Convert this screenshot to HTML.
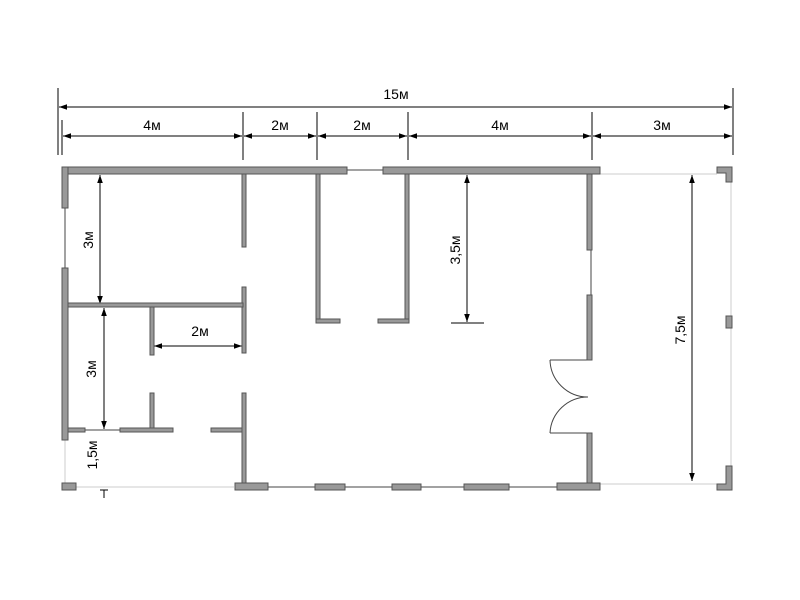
<!DOCTYPE html>
<html><head><meta charset="utf-8"><style>body{margin:0;background:#fff}svg{display:block}</style></head><body>
<svg width="800" height="600" viewBox="0 0 800 600" xmlns="http://www.w3.org/2000/svg" font-family="Liberation Sans, sans-serif">
<defs>
<marker id="a" viewBox="0 0 10 10" refX="10" refY="5" markerWidth="8" markerHeight="8" orient="auto-start-reverse"><path d="M0,1.5L10,5L0,8.5z" fill="#000"/></marker>
</defs>
<g stroke="#000" stroke-width="1">
<line x1="58" y1="88" x2="58" y2="155"/><line x1="733" y1="88" x2="733" y2="155"/>
<line x1="62" y1="120" x2="62" y2="155"/><line x1="243" y1="112" x2="243" y2="160"/><line x1="317" y1="112" x2="317" y2="160"/><line x1="408" y1="112" x2="408" y2="160"/><line x1="592" y1="112" x2="592" y2="160"/>
<line x1="59" y1="107" x2="732" y2="107" marker-start="url(#a)" marker-end="url(#a)"/>
<line x1="63" y1="136" x2="242" y2="136" marker-start="url(#a)" marker-end="url(#a)"/>
<line x1="244" y1="136" x2="316" y2="136" marker-start="url(#a)" marker-end="url(#a)"/>
<line x1="318" y1="136" x2="407" y2="136" marker-start="url(#a)" marker-end="url(#a)"/>
<line x1="409" y1="136" x2="591" y2="136" marker-start="url(#a)" marker-end="url(#a)"/>
<line x1="593" y1="136" x2="732" y2="136" marker-start="url(#a)" marker-end="url(#a)"/>
<line x1="100" y1="175" x2="100" y2="304" marker-start="url(#a)" marker-end="url(#a)"/>
<line x1="104" y1="308" x2="104" y2="429" marker-start="url(#a)" marker-end="url(#a)"/>
<line x1="154" y1="346" x2="242" y2="346" marker-start="url(#a)" marker-end="url(#a)"/>
<line x1="467" y1="175" x2="467" y2="322" marker-start="url(#a)" marker-end="url(#a)"/>
<line x1="451" y1="323" x2="484" y2="323"/>
<line x1="692" y1="175" x2="692" y2="481" marker-start="url(#a)" marker-end="url(#a)"/>
<line x1="104" y1="490" x2="104" y2="498"/><line x1="100" y1="490" x2="108" y2="490"/>
</g>
<g stroke="#ccc" stroke-width="1" fill="none">
<line x1="600" y1="174" x2="717" y2="174"/><line x1="600" y1="484" x2="717" y2="484"/><line x1="731" y1="182" x2="731" y2="466"/>
<line x1="76" y1="487" x2="234" y2="487"/><line x1="65" y1="440" x2="65" y2="483"/>
</g>
<g stroke="#444" stroke-width="1" fill="none">
<line x1="347" y1="170" x2="383" y2="170"/><line x1="65" y1="208" x2="65" y2="268"/><line x1="591" y1="250" x2="591" y2="295"/>
<line x1="268" y1="487" x2="315" y2="487"/><line x1="345" y1="487" x2="392" y2="487"/><line x1="421" y1="487" x2="464" y2="487"/><line x1="509" y1="487" x2="557" y2="487"/>
<line x1="85" y1="430" x2="120" y2="430"/>
<path d="M550,360 L589,360 M550,360 A38,38 0 0 0 588,397 M550,433 L589,433 M550,433 A38,38 0 0 1 588,397"/>
</g>
<g fill="#999" stroke="#555" stroke-width="1">
<rect x="62" y="167" width="285" height="7"/><rect x="383" y="167" width="217" height="7"/>
<rect x="62" y="167" width="6" height="41"/><rect x="62" y="268" width="6" height="172"/>
<rect x="62" y="483" width="14" height="7"/>
<rect x="242" y="174" width="4" height="73"/><rect x="242" y="287" width="4" height="66"/><rect x="242" y="393" width="4" height="90"/>
<rect x="68" y="303" width="175" height="4"/>
<rect x="150" y="307" width="4" height="48"/><rect x="150" y="393" width="4" height="36"/>
<rect x="68" y="428" width="17" height="4"/><rect x="120" y="428" width="53" height="4"/><rect x="211" y="428" width="31" height="4"/>
<rect x="316" y="174" width="4" height="149"/><rect x="405" y="174" width="4" height="149"/>
<rect x="316" y="319" width="24" height="4"/><rect x="378" y="319" width="31" height="4"/>
<rect x="587" y="174" width="5" height="76"/><rect x="587" y="295" width="5" height="65"/><rect x="587" y="433" width="5" height="50"/>
<rect x="235" y="483" width="33" height="7"/><rect x="315" y="484" width="30" height="6"/><rect x="392" y="484" width="29" height="6"/><rect x="464" y="484" width="45" height="6"/><rect x="557" y="483" width="43" height="7"/>
<path d="M717,167 H732 V182 H726 V173 H717 Z"/><rect x="726" y="316" width="6" height="12"/><path d="M726,466 H732 V490 H717 V484 H726 Z"/>
</g>
<g font-size="14" fill="#000" text-anchor="middle">
<text x="396" y="99">15м</text>
<text x="152" y="130">4м</text><text x="280" y="130">2м</text><text x="362" y="130">2м</text><text x="500" y="130">4м</text><text x="662" y="130">3м</text>
<text x="200" y="336">2м</text>
<text transform="translate(93,240) rotate(-90)">3м</text>
<text transform="translate(96,369) rotate(-90)">3м</text>
<text transform="translate(97,455) rotate(-90)">1,5м</text>
<text transform="translate(460,250) rotate(-90)">3,5м</text>
<text transform="translate(685,330) rotate(-90)">7,5м</text>
</g>
</svg>
</body></html>
